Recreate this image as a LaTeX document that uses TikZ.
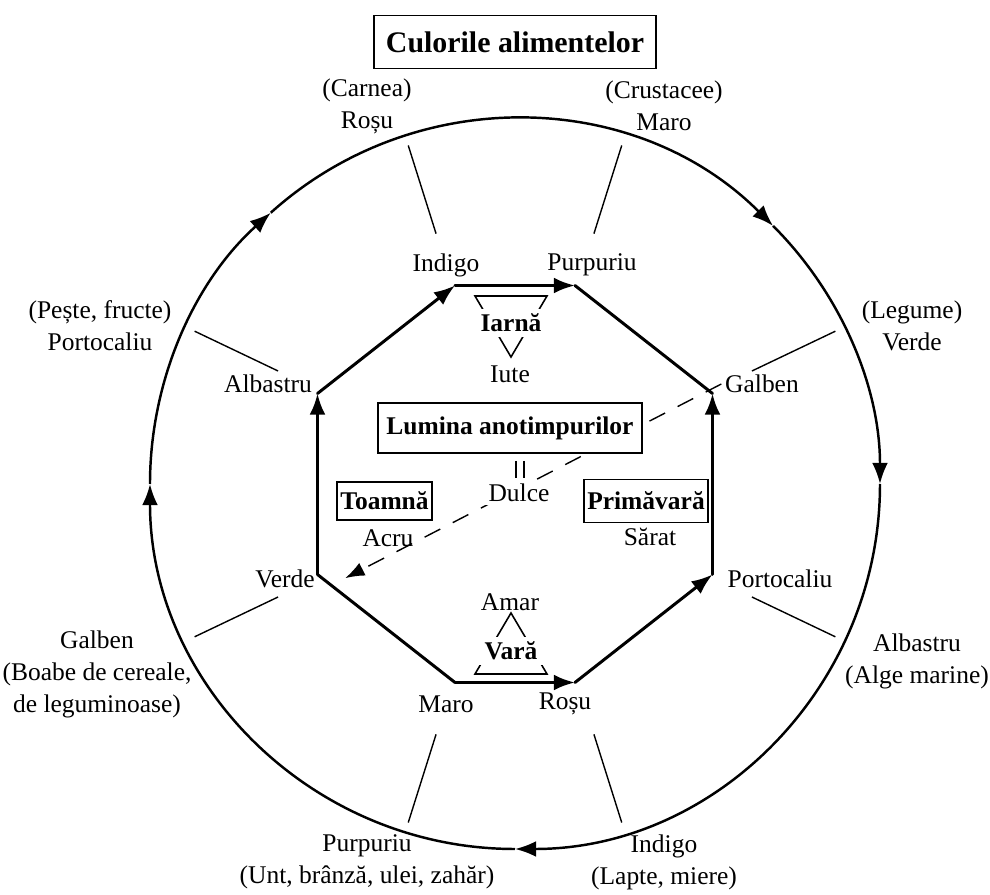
\documentclass[tikz,border=0pt]{standalone}
\usepackage{fontspec}
\setmainfont{Liberation Serif}
\usepackage{tikz}
\usetikzlibrary{arrows.meta}

\tikzset{
  lbl/.style={font=\fontsize{14.5}{18.2}\selectfont, align=center, inner sep=2pt},
  seasonlbl/.style={font=\fontsize{14.5}{18.2}\selectfont\bfseries, inner sep=3pt},
  boxed/.style={seasonlbl, draw, line width=1pt, fill=white},
  ring/.style={line width=1.4pt, -{Latex[length=12pt,width=9pt]}},
  octo/.style={line width=1.7pt, line cap=round},
  flow/.style={octo, -{Latex[length=12pt,width=9pt]}},
  spoke/.style={line width=0.8pt},
  tri/.style={line width=0.9pt, line join=miter},
  dashline/.style={line width=0.8pt, dash pattern=on 10pt off 8pt, -{Latex[length=11pt,width=8pt]}},
}

\begin{document}
\begin{tikzpicture}
  \useasboundingbox (-10.3,-8.22) rectangle (9.5,9.68);

  % Title
  \node[draw, line width=1.1pt, font=\fontsize{17}{20}\selectfont\bfseries,
        inner xsep=7pt, minimum height=1.06cm] (title) at (0,8.84) {Culorile alimentelor};

  % Outer ring, clockwise
  \foreach \a/\b in {180/132, 132/45, 45/0, 0/-90, -90/-180}
    \draw[ring] (\a:7.3) arc[start angle=\a, end angle=\b, radius=7.3];

  % Radial ticks between inner and outer colours
  \foreach \t in {72.5, 107.5, 25.5, 154.5, -25.5, 205.5, -72.5, -107.5}
    \draw[spoke] (\t:5.25) -- (\t:7.1);

  % Outer colours and foods
  \node[lbl] (outRosu) at (-2.96,7.56) {(Carnea)\\Roșu};
  \node[lbl] (outMaro) at (2.98,7.56) {(Crustacee)\\Maro};
  \node[lbl] (outVerde) at (7.94,3.16) {(Legume)\\Verde};
  \node[lbl] (outPortocaliu) at (-8.3,3.16) {(Pește, fructe)\\Portocaliu};
  \node[lbl] (outAlbastru) at (8.04,-3.55) {Albastru\\(Alge marine)};
  \node[lbl] (outGalben) at (-8.36,-3.8) {Galben\\(Boabe de cereale,\\de leguminoase)};
  \node[lbl] (outIndigo) at (2.98,-7.56) {Indigo\\(Lapte, miere)};
  \node[lbl] (outPurpuriu) at (-2.96,-7.56) {Purpuriu\\(Unt, brânză, ulei, zahăr)};

  % Octagon corners
  \coordinate (cIndigo) at (-1.2,3.97);
  \coordinate (cPurpuriu) at (1.2,3.97);
  \coordinate (cGalben) at (3.95,1.81);
  \coordinate (cPortocaliu) at (3.95,-1.81);
  \coordinate (cRosu) at (1.2,-3.97);
  \coordinate (cMaro) at (-1.2,-3.97);
  \coordinate (cVerde) at (-3.95,-1.81);
  \coordinate (cAlbastru) at (-3.95,1.81);

  % Octagon of seasons
  \draw[flow] (cVerde) -- (cAlbastru);
  \draw[flow] (cAlbastru) -- (cIndigo);
  \draw[flow] (cIndigo) -- (cPurpuriu);
  \draw[octo] (cPurpuriu) -- (cGalben);
  \draw[flow] (cPortocaliu) -- (cGalben);
  \draw[flow] (cRosu) -- (cPortocaliu);
  \draw[flow] (cMaro) -- (cRosu);
  \draw[octo] (cVerde) -- (cMaro);

  % Inner colours
  \node[lbl] (inIndigo) at (-1.38,4.38) {Indigo};
  \node[lbl] (inPurpuriu) at (1.54,4.38) {Purpuriu};
  \node[lbl] (inGalben) at (4.94,2.0) {Galben};
  \node[lbl] (inAlbastru) at (-4.94,2.0) {Albastru};
  \node[lbl] (inPortocaliu) at (5.3,-1.9) {Portocaliu};
  \node[lbl] (inVerde) at (-4.6,-1.9) {Verde};
  \node[lbl] (inRosu) at (1.0,-4.4) {Roșu};
  \node[lbl] (inMaro) at (-1.38,-4.4) {Maro};

  % Diagonal from Galben to Verde
  \draw[dashline, shorten >=0.6cm] (inGalben.west) -- (inVerde.south east);

  % Winter and summer
  \draw[tri] (-0.8,3.76) -- (0.64,3.76) -- (-0.08,2.54) -- cycle;
  \node[seasonlbl, fill=white] (iarna) at (-0.08,3.22) {Iarnă};
  \node[lbl] (iute) at (-0.1,2.2) {Iute};
  \draw[tri] (-0.8,-3.8) -- (0.64,-3.8) -- (-0.08,-2.58) -- cycle;
  \node[seasonlbl, fill=white] (vara) at (-0.08,-3.34) {Vară};
  \node[lbl] (amar) at (-0.1,-2.36) {Amar};

  % Centre
  \node[boxed, inner xsep=5pt, minimum height=1cm] (lumina) at (-0.1,1.12) {Lumina anotimpurilor};
  \draw[tri] (0.02,0.46) -- (0.02,0.12);
  \draw[tri] (0.18,0.46) -- (0.18,0.12);
  \node[lbl, fill=white] (dulce) at (0.08,-0.18) {Dulce};

  % Autumn and spring
  \node[boxed, inner xsep=2pt, minimum height=0.76cm] (toamna) at (-2.61,-0.34) {Toamnă};
  \node[lbl] (acru) at (-2.54,-1.08) {Acru};
  \node[boxed, inner xsep=2pt, minimum height=0.86cm] (primavara) at (2.62,-0.34) {Primăvară};
  \node[lbl] (sarat) at (2.7,-1.06) {Sărat};
\end{tikzpicture}
\end{document}
